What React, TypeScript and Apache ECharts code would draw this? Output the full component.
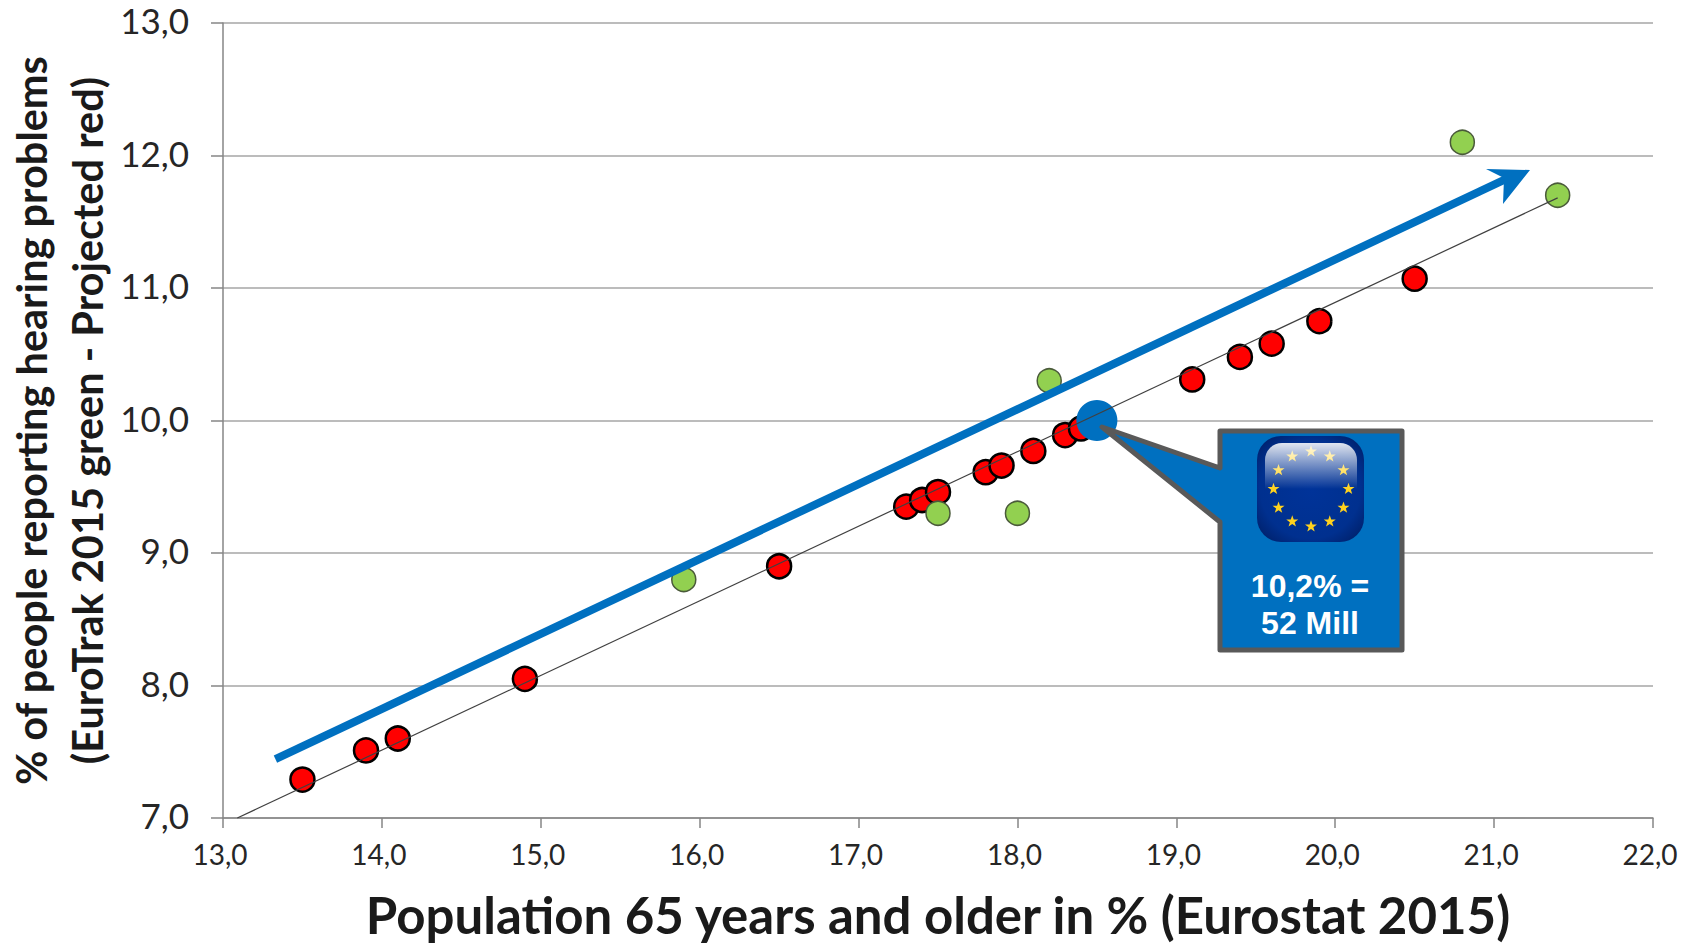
import React, { useEffect, useRef } from "react";
import * as echarts from "echarts";

const redX = [13.5, 13.9, 14.1, 14.9, 16.5, 17.3, 17.4, 17.5, 17.8, 17.9, 18.1, 18.3, 18.4, 19.1, 19.4, 19.6, 19.9, 20.5];
const redY = [7.29, 7.51, 7.6, 8.05, 8.9, 9.35, 9.4, 9.46, 9.61, 9.66, 9.77, 9.89, 9.94, 10.31, 10.48, 10.58, 10.75, 11.07];
const greenX = [15.9, 17.5, 18.0, 18.2, 20.8, 21.4];
const greenY = [8.8, 9.3, 9.3, 10.3, 12.1, 11.7];
const euX = [18.5];
const euY = [10.0];
const trendX = [13.09, 21.4];
const trendY = [7.0, 11.68];
const arrowX = [13.33, 21.07];
const arrowY = [7.445, 11.82];
const xTitle = "Population 65 years and older in % (Eurostat 2015)";
const yTitle = "% of people reporting hearing problems\n(EuroTrak 2015 green - Projected red)";
const calloutLines = ["10,2% =", "52 Mill"];

const FONT = "Lato";
const zip = (a: number[], b: number[]) => a.map((v, i) => [v, b[i]]);
const fmt = (v: number) => v.toFixed(1).replace(".", ",");

function starPoints(cx: number, cy: number, R: number) {
  const pts: number[][] = [];
  for (let i = 0; i < 10; i++) {
    const r = i % 2 === 0 ? R : R * 0.4;
    const a = -Math.PI / 2 + (i * Math.PI) / 5;
    pts.push([cx + r * Math.cos(a), cy + r * Math.sin(a)]);
  }
  return pts;
}

function flagStars() {
  const out: any[] = [];
  for (let i = 0; i < 12; i++) {
    const a = (i * Math.PI) / 6;
    out.push({
      type: "polygon",
      z: 22,
      shape: { points: starPoints(1311 + 37.5 * Math.sin(a), 489 - 37.5 * Math.cos(a), 6.3) },
      style: { fill: "#FFD21E" },
    });
  }
  return out;
}

export default function App() {
  const ref = useRef<HTMLDivElement>(null);
  useEffect(() => {
    document.body.style.margin = "0";
    document.body.style.overflow = "hidden";
    const chart = echarts.init(ref.current!, null, { renderer: "svg" });
    chart.setOption({
      animation: false,
      backgroundColor: "#fff",
      grid: { left: 223, top: 23, width: 1430, height: 795, outerBoundsMode: "none" },
      xAxis: {
        type: "value", min: 13, max: 22, interval: 1,
        name: xTitle, nameLocation: "middle", nameGap: 71, nameMoveOverlap: false,
        nameTextStyle: { fontFamily: FONT, fontWeight: "bold", fontSize: 51, color: "#1a1a1a" },
        axisLine: { onZero: false, lineStyle: { color: "#868686", width: 1.5 } },
        axisTick: { length: 10, lineStyle: { color: "#868686", width: 1.5 } },
        axisLabel: { margin: 22, fontFamily: FONT, fontSize: 28, color: "#262626", formatter: fmt, padding: [0, 6, 0, 0] },
        splitLine: { show: false },
      },
      yAxis: {
        type: "value", min: 7, max: 13, interval: 1,
        name: yTitle, nameLocation: "middle", nameGap: 108, nameMoveOverlap: false,
        nameTextStyle: { fontFamily: FONT, fontWeight: "bold", fontSize: 41.5, lineHeight: 56, color: "#1a1a1a" },
        axisLine: { onZero: false, lineStyle: { color: "#868686", width: 1.5 } },
        axisTick: { length: 12, lineStyle: { color: "#868686", width: 1.5 } },
        axisLabel: {
          margin: 34, fontFamily: FONT, fontSize: 35, color: "#262626",
          formatter: (v: number) => `{a|${fmt(v)}}`,
          rich: { a: { fontFamily: FONT, fontSize: 35, color: "#262626", padding: [0, 0, 6, 0] } },
        },
        splitLine: { lineStyle: { color: "#A6A6A6", width: 1.5 } },
      },
      series: [
        { type: "scatter", data: zip(redX, redY), symbolSize: 24, clip: false,
          itemStyle: { color: "#FF0000", borderColor: "#000", borderWidth: 2.5, opacity: 1 }, z: 3 },
        { type: "scatter", data: zip(greenX, greenY), symbolSize: 24, clip: false,
          itemStyle: { color: "#92D050", borderColor: "#4A5A3A", borderWidth: 1.5, opacity: 1 }, z: 4 },
        { type: "scatter", data: zip(euX, euY), symbolSize: 41, clip: false,
          itemStyle: { color: "#0070C0", opacity: 1 }, z: 5 },
        { type: "line", data: zip(trendX, trendY), symbol: "none", clip: false,
          lineStyle: { color: "#404040", width: 1.2 }, z: 6 },
        { type: "line", data: zip(arrowX, arrowY), symbol: "none", clip: false,
          lineStyle: { color: "#0070C0", width: 8, cap: "butt" }, z: 7 },
      ],
      graphic: [
        { type: "polygon", z: 20,
          shape: { points: [[1530, 170], [1486, 169], [1504, 178], [1503, 204]] },
          style: { fill: "#0070C0" } },
        { type: "polygon", z: 20,
          shape: { points: [[1102, 427], [1220, 468], [1220, 431], [1402, 431], [1402, 650], [1220, 650], [1220, 522]] },
          style: { fill: "#0070C0", stroke: "#595959", lineWidth: 5, lineJoin: "round" } },
        { type: "rect", z: 21,
          shape: { x: 1257, y: 436, width: 107, height: 106, r: 24 },
          style: { fill: {
            type: "radial", x: 0.5, y: 0.5, r: 0.72,
            colorStops: [{ offset: 0, color: "#003399" }, { offset: 0.65, color: "#00308F" }, { offset: 1, color: "#001A5C" }],
          } } },
        ...flagStars(),
        { type: "rect", z: 23,
          shape: { x: 1265, y: 443, width: 92, height: 46, r: [17, 17, 0, 0] },
          style: { fill: {
            type: "linear", x: 0, y: 0, x2: 0, y2: 1,
            colorStops: [{ offset: 0, color: "rgba(255,255,255,0.88)" }, { offset: 1, color: "rgba(255,255,255,0)" }],
          } } },
        ...calloutLines.map((t, i) => ({
          type: "text", z: 24, x: 1310, y: 586 + i * 37,
          style: { text: t, fill: "#fff", font: 'bold 32px "Liberation Sans"', textAlign: "center", textVerticalAlign: "middle" },
        })),
      ],
    });
    return () => chart.dispose();
  }, []);
  return <div ref={ref} style={{ width: 1681, height: 947 }} />;
}
